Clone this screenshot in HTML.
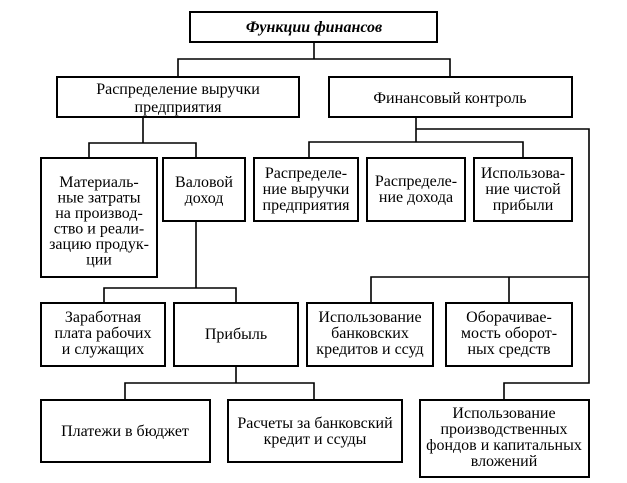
<!DOCTYPE html>
<html><head><meta charset="utf-8"><style>
html,body{margin:0;padding:0;background:#fff;}
svg{display:block;}
text{font-family:"Liberation Serif",serif;font-size:16px;fill:#000;text-anchor:middle;}
rect{fill:#fff;stroke:#000;stroke-width:2;}
line,polyline{stroke:#000;stroke-width:1.6;fill:none;}
</style></head><body>
<svg width="627" height="483" viewBox="0 0 627 483">
<polyline points="314,42 314,59"/>
<polyline points="178,77 178,59 450,59 450,77"/>
<polyline points="143,117 143,143"/>
<polyline points="89,158 89,143 196,143 196,158"/>
<polyline points="416,117 416,142"/>
<polyline points="416,129 589,129 589,383 504,383 504,400"/>
<polyline points="309,158 309,142 523,142 523,158"/>
<polyline points="196,221 196,288"/>
<polyline points="104,303 104,288 236,288 236,303"/>
<polyline points="371,303 371,277 589,277"/>
<polyline points="509,277 509,303"/>
<polyline points="236,366 236,383"/>
<polyline points="125,400 125,383 314,383 314,400"/>
<rect x="190" y="12" width="247" height="30"/>
<text x="314" y="32" style="font-weight:bold;font-style:italic">Функции финансов</text>
<rect x="57" y="77" width="242" height="40"/>
<text x="178" y="94">Распределение выручки</text>
<text x="178" y="112">предприятия</text>
<rect x="329" y="77" width="243" height="40"/>
<text x="450" y="103">Финансовый контроль</text>
<rect x="41" y="158" width="116" height="119"/>
<text x="99" y="187">Материаль-</text>
<text x="99" y="202.5">ные затраты</text>
<text x="99" y="218">на производ-</text>
<text x="99" y="233.5">ство и реали-</text>
<text x="99" y="249">зацию продук-</text>
<text x="99" y="264.5">ции</text>
<rect x="163" y="158" width="82" height="63"/>
<text x="204" y="187">Валовой</text>
<text x="204" y="203">доход</text>
<rect x="254" y="158" width="104" height="63"/>
<text x="306" y="178">Распределе-</text>
<text x="306" y="194">ние выручки</text>
<text x="306" y="210">предприятия</text>
<rect x="367" y="158" width="98" height="63"/>
<text x="416" y="186">Распределе-</text>
<text x="416" y="202">ние дохода</text>
<rect x="474" y="158" width="98" height="63"/>
<text x="523" y="178">Использова-</text>
<text x="523" y="194">ние чистой</text>
<text x="523" y="210">прибыли</text>
<rect x="41" y="303" width="124" height="63"/>
<text x="103" y="322">Заработная</text>
<text x="103" y="338">плата рабочих</text>
<text x="103" y="354">и служащих</text>
<rect x="174" y="303" width="124" height="63"/>
<text x="236" y="339">Прибыль</text>
<rect x="307" y="303" width="126" height="63"/>
<text x="370" y="322">Использование</text>
<text x="370" y="338">банковских</text>
<text x="370" y="354">кредитов и ссуд</text>
<rect x="446" y="303" width="126" height="63"/>
<text x="509" y="322">Оборачивае-</text>
<text x="509" y="338">мость оборот-</text>
<text x="509" y="354">ных средств</text>
<rect x="41" y="400" width="169" height="62"/>
<text x="125" y="436">Платежи в бюджет</text>
<rect x="228" y="400" width="174" height="62"/>
<text x="315" y="428">Расчеты за банковский</text>
<text x="315" y="444">кредит и ссуды</text>
<rect x="420" y="400" width="169" height="77"/>
<text x="504" y="418">Использование</text>
<text x="504" y="434">производственных</text>
<text x="504" y="450">фондов и капитальных</text>
<text x="504" y="466">вложений</text>
</svg>
</body></html>
